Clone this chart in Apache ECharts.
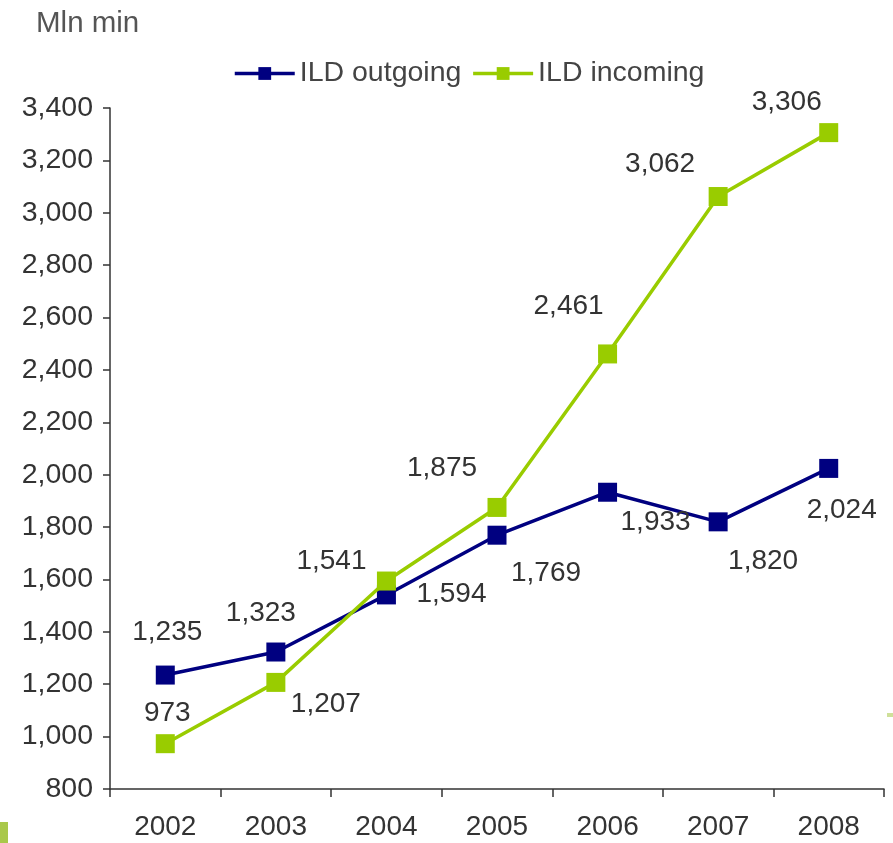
<!DOCTYPE html>
<html>
<head>
<meta charset="utf-8">
<script src="https://cdn.jsdelivr.net/npm/echarts@6/dist/echarts.min.js"></script>
<style>html,body{margin:0;padding:0;background:#fff}#c{width:893px;height:843px}</style>
</head>
<body>
<div id="c"></div>
<script>
var categories = ['2002','2003','2004','2005','2006','2007','2008'];
var outgoing = [1235, 1323, 1541, 1769, 1933, 1820, 2024];
var incoming = [973, 1207, 1594, 1875, 2461, 3062, 3306];
var seriesNames = ['ILD outgoing', 'ILD incoming'];
var yTicks = {min: 800, max: 3400, interval: 200};

// label offsets (px) relative to each marker centre
var outOffsets = [[2,-43],[-15,-39],[-55,-34],[49,38],[48,30],[45,39],[13,42]];
var inOffsets  = [[2,-30],[50,22],[65,13],[-55,-39],[-39,-48],[-58,-32],[-42,-30]];

function build(vals, offs) {
  return vals.map(function (v, i) {
    return {value: v, label: {offset: offs[i]}};
  });
}
var FONT = 'Liberation Sans, Arial, sans-serif';
var chart = echarts.init(document.getElementById('c'));
chart.setOption({
  animation: false,
  backgroundColor: '#fff',
  title: {
    text: 'Mln min', left: 31, top: 4,
    textStyle: {fontFamily: FONT, fontSize: 29.5, fontWeight: 'normal', color: '#555'}
  },
  legend: {
    top: 54, left: 228, itemWidth: 60, itemHeight: 16, itemGap: 10,
    lineStyle: {width: 3.5},
    textStyle: {fontFamily: FONT, fontSize: 28.5, color: '#444'},
    data: seriesNames
  },
  grid: {left: 110, right: 9, top: 108, bottom: 54, containLabel: false},
  xAxis: {
    type: 'category', data: categories, boundaryGap: true,
    axisLine: {lineStyle: {color: '#333', width: 1.5}},
    axisTick: {show: true, length: 8, alignWithLabel: false, lineStyle: {color: '#333', width: 1.5}},
    axisLabel: {fontFamily: FONT, fontSize: 28, color: '#333', margin: 24}
  },
  yAxis: {
    type: 'value', min: yTicks.min, max: yTicks.max, interval: yTicks.interval,
    axisLine: {show: true, lineStyle: {color: '#333', width: 1.5}},
    axisTick: {show: true, length: 7, lineStyle: {color: '#333', width: 1.5}},
    splitLine: {show: false},
    axisLabel: {
      fontFamily: FONT, fontSize: 28.5, color: '#333', margin: 17,
      formatter: function (v) { return v.toLocaleString('en-US'); }
    }
  },
  graphic: [
    {type: 'rect', shape: {x: 0, y: 822, width: 8, height: 21}, style: {fill: '#a9c84a'}},
    {type: 'rect', shape: {x: 887, y: 713, width: 6, height: 4}, style: {fill: '#cfe09a'}}
  ],
  series: [
    {
      name: seriesNames[0], type: 'line', data: build(outgoing, outOffsets),
      symbol: 'rect', symbolSize: 19,
      itemStyle: {color: '#000080'},
      lineStyle: {color: '#000080', width: 3.5},
      label: {
        show: true, position: 'inside', fontFamily: FONT, fontSize: 28, color: '#333',
        formatter: function (p) { return p.value.toLocaleString('en-US'); }
      },
      z: 2
    },
    {
      name: seriesNames[1], type: 'line', data: build(incoming, inOffsets),
      symbol: 'rect', symbolSize: 19,
      itemStyle: {color: '#99cc00'},
      lineStyle: {color: '#99cc00', width: 3.5},
      label: {
        show: true, position: 'inside', fontFamily: FONT, fontSize: 28, color: '#333',
        formatter: function (p) { return p.value.toLocaleString('en-US'); }
      },
      z: 3
    }
  ]
});
</script>
</body>
</html>
